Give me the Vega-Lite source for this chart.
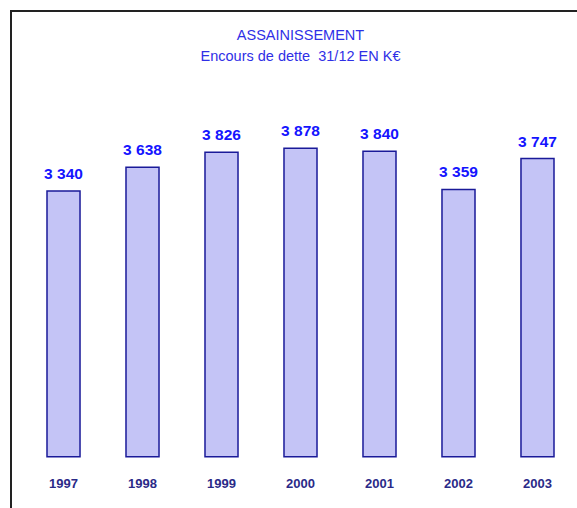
{
  "$schema": "https://vega.github.io/schema/vega-lite/v6.json",
  "width": 579,
  "height": 520,
  "autosize": {"type": "none"},
  "padding": {"left": 11, "top": 11, "right": 0, "bottom": 0},
  "background": "white",
  "title": {
    "text": "ASSAINISSEMENT",
    "subtitle": "Encours de dette \u00a031/12 EN K€",
    "anchor": "middle",
    "frame": "group",
    "offset": -53,
    "font": "Liberation Sans",
    "fontSize": 14.5,
    "fontWeight": "normal",
    "color": "#2f2fe6",
    "subtitleFont": "Liberation Sans",
    "subtitleFontSize": 14.5,
    "subtitleColor": "#2f2fe6",
    "subtitlePadding": 6
  },
  "config": {
    "view": {"stroke": "#222222", "strokeWidth": 2},
    "locale": {"number": {"decimal": ",", "thousands": " ", "grouping": [3], "currency": ["", " €"]}}
  },
  "data": {
    "values": [
      {"year": "1997", "value": 3340},
      {"year": "1998", "value": 3638},
      {"year": "1999", "value": 3826},
      {"year": "2000", "value": 3878},
      {"year": "2001", "value": 3840},
      {"year": "2002", "value": 3359},
      {"year": "2003", "value": 3747}
    ]
  },
  "encoding": {
    "x": {
      "field": "year",
      "type": "ordinal",
      "scale": {"paddingInner": 0.582, "paddingOuter": 0.4557},
      "axis": null
    }
  },
  "layer": [
    {
      "mark": {"type": "bar", "fill": "#c4c4f6", "stroke": "#1a1a99", "strokeWidth": 1.5},
      "encoding": {
        "y": {
          "field": "value",
          "type": "quantitative",
          "scale": {"domain": [-932, 5601], "nice": false, "zero": false},
          "axis": null
        },
        "y2": {"datum": 0}
      }
    },
    {
      "mark": {
        "type": "text",
        "baseline": "alphabetic",
        "dy": -12,
        "font": "Liberation Sans Narrow, Arial Narrow, Liberation Sans, sans-serif",
        "fontSize": 15.5,
        "fontWeight": "bold",
        "fill": "#1414ff"
      },
      "encoding": {
        "y": {"field": "value", "type": "quantitative"},
        "text": {"field": "value", "type": "quantitative", "format": ",d"}
      }
    },
    {
      "mark": {
        "type": "text",
        "baseline": "alphabetic",
        "font": "Liberation Sans Narrow, Arial Narrow, Liberation Sans, sans-serif",
        "fontSize": 13,
        "fontWeight": "bold",
        "fill": "#2a2a88"
      },
      "encoding": {
        "y": {"datum": -392},
        "text": {"field": "year"}
      }
    }
  ]
}
